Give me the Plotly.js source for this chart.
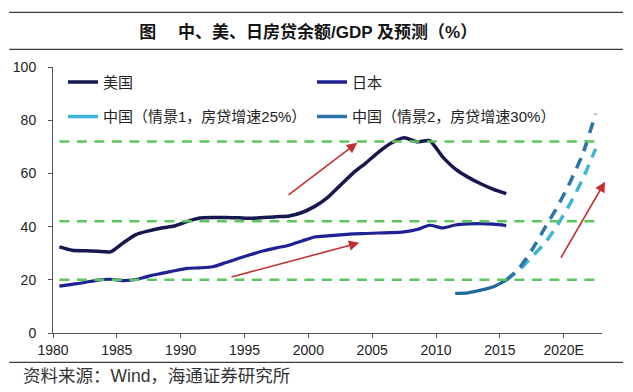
<!DOCTYPE html>
<html>
<head>
<meta charset="utf-8">
<script src="https://cdn.plot.ly/plotly-3.0.1.min.js"></script>
<style>
html,body{margin:0;padding:0;background:#fff;}
#chart{width:633px;height:392px;}
</style>
</head>
<body>
<div id="chart"></div>
<script>
// ---- data ----
var years = [1980,1981,1982,1983,1984,1985,1986,1987,1988,1989,
             1990,1991,1992,1993,1994,1995,1996,1997,1998,1999,
             2000,2001,2002,2003,2004,2005,2006,2007,2008,2009,
             2010,2011,2012,2013,2014,2015];
var usValues = [32.4,31.1,30.9,30.7,30.5,33.9,37.0,38.4,39.5,40.2,
                41.9,43.2,43.4,43.4,43.3,43.1,43.4,43.7,44.0,45.3,
                47.6,50.9,55.5,60.1,63.9,68.0,71.4,73.4,71.9,72.3,
                66.3,61.7,58.6,56.1,54.0,52.4];
var japanValues = [17.6,18.3,19.0,19.9,20.2,19.7,20.1,21.4,22.4,23.4,
                   24.3,24.5,24.9,26.4,28.0,29.5,30.9,32.0,33.0,34.6,
                   36.1,36.5,36.9,37.3,37.4,37.6,37.7,38.0,38.9,40.5,
                   39.5,40.6,41.0,41.1,40.9,40.4];
var chinaYears = [2011,2012,2013,2014,2015];
var chinaValues = [14.9,15.1,16.1,17.4,19.9];
var forecastYears = [2015,2016,2017,2018,2019,2020,2021,2022];
var scenario1Values = [19.9,23.6,28.6,33.6,40.5,48.6,58.0,69.2];
var scenario2Values = [19.9,24.3,31.1,39.3,47.4,56.7,67.4,82.4];
var refLevels = [72,42,20];
var refYears = [1980,2022];
var tickYears = [1979.5,1984.5,1989.5,1994.5,1999.5,2004.5,2009.5,2014.5,2019.5];
var tickLabels = ['1980','1985','1990','1995','2000','2005','2010','2015','2020E'];
var yTicks = [0,20,40,60,80,100];
var seriesNames = ['美国','日本','中国（情景1，房贷增速25%）','中国（情景2，房贷增速30%）'];
// trend arrows: [tailYear, tailValue, tipYear, tipValue]
var trendArrows = [[1997.83,51.5,2003.33,71.5],[1993.36,20.9,2003.49,33.9],[2019.21,27.7,2022.74,56.9]];

var cUS='#16184f', cJP='#1f2194', cCN='#1f6c9c', cS1='#3fb4d9', cS2='#2a74ab';
var green='#5cc85c', red='#c2312f';
var cjk = 'Liberation Sans, Noto Sans CJK SC, sans-serif';

var traces = [];
traces.push({x:years, y:usValues, type:'scatter', mode:'lines', showlegend:false,
  line:{color:cUS, width:3.5, shape:'spline', smoothing:0.6}, hoverinfo:'skip'});
traces.push({x:years, y:japanValues, type:'scatter', mode:'lines', showlegend:false,
  line:{color:cJP, width:3.2, shape:'spline', smoothing:0.6}, hoverinfo:'skip'});
traces.push({x:forecastYears, y:scenario1Values, type:'scatter', mode:'lines', showlegend:false,
  line:{color:cS1, width:3.5, dash:'11px,8px', shape:'spline', smoothing:0.5}, hoverinfo:'skip'});
traces.push({x:forecastYears, y:scenario2Values, type:'scatter', mode:'lines', showlegend:false,
  line:{color:cS2, width:3.5, dash:'11px,8px', shape:'spline', smoothing:0.5}, hoverinfo:'skip'});
traces.push({x:chinaYears, y:chinaValues, type:'scatter', mode:'lines', showlegend:false,
  line:{color:cCN, width:3.2, shape:'spline', smoothing:0.6}, hoverinfo:'skip'});
refLevels.forEach(function(v){
  traces.push({x:refYears, y:[v,v], type:'scatter', mode:'lines', showlegend:false,
    line:{color:green, width:2.5, dash:'10px,7.5px'}, hoverinfo:'skip'});
});
// legend entries
var legCols = [cUS, cJP, cS1, cS2];
var legIds = ['legend','legend2','legend3','legend4'];
seriesNames.forEach(function(n,i){
  traces.push({x:[null], y:[null], type:'scatter', mode:'lines', name:n, legend:legIds[i],
    line:{color:legCols[i], width:3.5}});
});

function legendBox(xp, yp){
  return {x:xp, y:yp, xanchor:'left', yanchor:'middle', orientation:'h',
    bgcolor:'rgba(0,0,0,0)', borderwidth:0,
    font:{family:cjk, size:15, color:'#222'}};
}

var annotations = trendArrows.map(function(a){
  return {x:a[2], y:a[3], xref:'x', yref:'y', ax:a[0], ay:a[1], axref:'x', ayref:'y',
    text:'', showarrow:true, arrowhead:2, arrowsize:1.3, arrowwidth:1.6, arrowcolor:red, standoff:0};
});
annotations.push({xref:'paper', yref:'paper', x:-0.059, y:-0.1605, xanchor:'left', yanchor:'middle',
  text:'资料来源：Wind，海通证券研究所', showarrow:false,
  font:{family:cjk, size:17.5, color:'#333'}});

var shapes = [1.2056, 1.0665, -0.1102].map(function(yy){
  return {type:'line', xref:'paper', yref:'paper', x0:-0.0797, x1:1.0383, y0:yy, y1:yy,
    line:{color:'#3a3a3a', width:1.2}};
});

var layout = {
  width:633, height:392,
  margin:{l:53, r:31, t:67, b:59},
  paper_bgcolor:'#fff', plot_bgcolor:'#fff',
  title:{text:'图　 中、美、日房贷余额<b>/GDP</b> 及预测（%）', x:0.487, xref:'container', xanchor:'center',
    y:1-32/392, yref:'container', yanchor:'middle',
    font:{family:cjk, size:17, color:'#151515', weight:'bold'}},
  xaxis:{range:[1979.5,2022.5], tickmode:'array', tickvals:tickYears, ticktext:tickLabels,
    ticks:'outside', ticklen:4, tickcolor:'#555', ticklabelshift:6.4,
    showline:true, linecolor:'#555', linewidth:1, showgrid:false, zeroline:false,
    tickfont:{family:'Liberation Sans, Arial, sans-serif', size:14, color:'#222'}},
  yaxis:{range:[0,100], tickmode:'array', tickvals:yTicks,
    ticks:'outside', ticklen:4, tickcolor:'#555', ticklabelstandoff:9,
    showline:true, linecolor:'#555', linewidth:1, showgrid:false, zeroline:false,
    tickfont:{family:'Liberation Sans, Arial, sans-serif', size:14, color:'#222'}},
  legend: legendBox(0.0182, 0.9425),
  legend2: legendBox(0.4718, 0.9425),
  legend3: legendBox(0.0182, 0.8132),
  legend4: legendBox(0.4718, 0.8132),
  annotations:annotations,
  shapes:shapes
};

Plotly.newPlot('chart', traces, layout, {staticPlot:true, displayModeBar:false});
</script>
</body>
</html>
